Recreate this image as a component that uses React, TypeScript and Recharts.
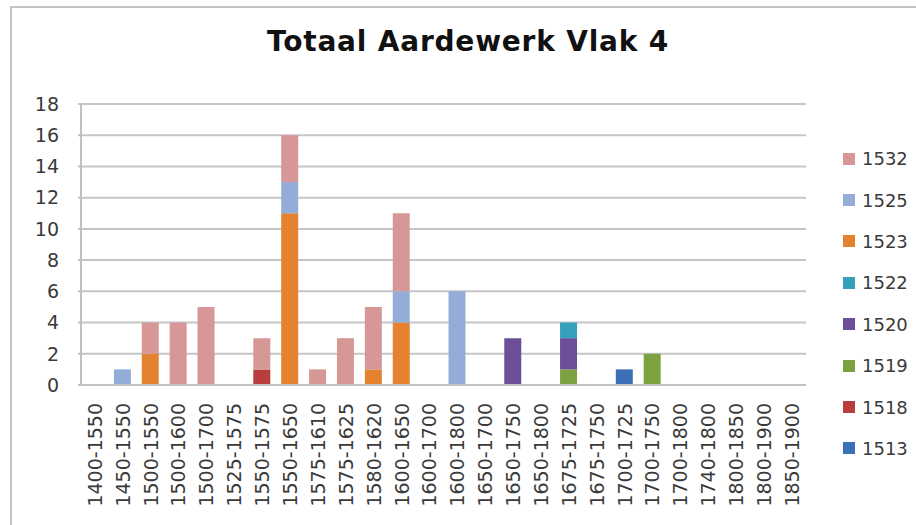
import React from 'react';
import { BarChart, Bar, XAxis, YAxis, CartesianGrid } from 'recharts';

const categories = [
  '1400-1550', '1450-1550', '1500-1550', '1500-1600', '1500-1700', '1525-1575',
  '1550-1575', '1550-1650', '1575-1610', '1575-1625', '1580-1620', '1600-1650',
  '1600-1700', '1600-1800', '1650-1700', '1650-1750', '1650-1800', '1675-1725',
  '1675-1750', '1700-1725', '1700-1750', '1700-1800', '1740-1800', '1800-1850',
  '1800-1900', '1850-1900',
];

const s1513 = [0, 0, 0, 0, 0, 0, 0, 0, 0, 0, 0, 0, 0, 0, 0, 0, 0, 0, 0, 1, 0, 0, 0, 0, 0, 0];
const s1518 = [0, 0, 0, 0, 0, 0, 1, 0, 0, 0, 0, 0, 0, 0, 0, 0, 0, 0, 0, 0, 0, 0, 0, 0, 0, 0];
const s1519 = [0, 0, 0, 0, 0, 0, 0, 0, 0, 0, 0, 0, 0, 0, 0, 0, 0, 1, 0, 0, 2, 0, 0, 0, 0, 0];
const s1520 = [0, 0, 0, 0, 0, 0, 0, 0, 0, 0, 0, 0, 0, 0, 0, 3, 0, 2, 0, 0, 0, 0, 0, 0, 0, 0];
const s1522 = [0, 0, 0, 0, 0, 0, 0, 0, 0, 0, 0, 0, 0, 0, 0, 0, 0, 1, 0, 0, 0, 0, 0, 0, 0, 0];
const s1523 = [0, 0, 2, 0, 0, 0, 0, 11, 0, 0, 1, 4, 0, 0, 0, 0, 0, 0, 0, 0, 0, 0, 0, 0, 0, 0];
const s1525 = [0, 1, 0, 0, 0, 0, 0, 2, 0, 0, 0, 2, 0, 6, 0, 0, 0, 0, 0, 0, 0, 0, 0, 0, 0, 0];
const s1532 = [0, 0, 2, 4, 5, 0, 2, 3, 1, 3, 4, 5, 0, 0, 0, 0, 0, 0, 0, 0, 0, 0, 0, 0, 0, 0];

const yTicks = [0, 2, 4, 6, 8, 10, 12, 14, 16, 18];

const seriesList = [
  { key: '1513', values: s1513, color: '#3B6FB6' },
  { key: '1518', values: s1518, color: '#B93D3D' },
  { key: '1519', values: s1519, color: '#7BA23E' },
  { key: '1520', values: s1520, color: '#6C4F98' },
  { key: '1522', values: s1522, color: '#34A0BA' },
  { key: '1523', values: s1523, color: '#E4822F' },
  { key: '1525', values: s1525, color: '#93ADD8' },
  { key: '1532', values: s1532, color: '#D69796' },
];

const data = categories.map((c, i) => {
  const row: Record<string, any> = { name: c };
  seriesList.forEach((s) => {
    row[s.key] = s.values[i];
  });
  return row;
});

const FONT = '"DejaVu Sans", sans-serif';
const TEXT = '#3A3A3A';

const XTick = (props: any) => {
  const { x, y, payload } = props;
  return (
    <g transform={`translate(${x},${y})`}>
      <text
        transform="rotate(-90)"
        x={-18}
        y={0}
        dy="0.36em"
        textAnchor="end"
        fontFamily={FONT}
        fontSize={19}
        fill={TEXT}
      >
        {payload.value}
      </text>
    </g>
  );
};

const LegendBox = () => {
  const items = [...seriesList].reverse();
  return (
    <div style={{ position: 'absolute', left: 843, top: 138, fontFamily: FONT, fontSize: 18, color: TEXT }}>
      {items.map((s) => (
        <div key={s.key} style={{ height: 41.4, display: 'flex', alignItems: 'center' }}>
          <span style={{ width: 12, height: 12, background: s.color, display: 'inline-block', marginRight: 7 }} />
          <span>{s.key}</span>
        </div>
      ))}
    </div>
  );
};

export default function App() {
  return (
    <div style={{ position: 'absolute', left: 0, top: 0, width: 916, height: 525, background: '#fff', overflow: 'hidden' }}>
      <div
        style={{
          position: 'absolute',
          left: 10,
          top: 6,
          width: 1000,
          height: 600,
          borderLeft: '2px solid #C4C4C4',
          borderTop: '2px solid #C4C4C4',
        }}
      />
      <div
        style={{
          position: 'absolute',
          left: 0,
          top: 25,
          width: 936,
          textAlign: 'center',
          fontFamily: FONT,
          fontWeight: 'bold',
          fontSize: 28,
          letterSpacing: 0.8,
          color: '#111',
        }}
      >
        Totaal Aardewerk Vlak 4
      </div>
      <div style={{ position: 'absolute', left: 0, top: 0 }}>
        <BarChart
          width={916}
          height={525}
          data={data}
          margin={{ top: 104, right: 110, bottom: 0, left: 21 }}
          barSize={17}
        >
          <CartesianGrid vertical={false} stroke="#C6C6C6" strokeWidth={2} />
          <XAxis
            dataKey="name"
            interval={0}
            height={140}
            tick={<XTick />}
            tickLine={false}
            tickSize={0}
            tickMargin={0}
            axisLine={{ stroke: '#C0C0C0', strokeWidth: 2 }}
          />
          <YAxis
            domain={[0, 18]}
            ticks={yTicks}
            interval={0}
            width={60}
            tickSize={3}
            tickMargin={19}
            tickLine={{ stroke: '#C0C0C0', strokeWidth: 2 }}
            axisLine={{ stroke: '#C0C0C0', strokeWidth: 2 }}
            tick={{ fontFamily: FONT, fontSize: 19, fill: TEXT }}
          />
          {seriesList.map((s) => (
            <Bar key={s.key} dataKey={s.key} stackId="a" fill={s.color} isAnimationActive={false} />
          ))}
        </BarChart>
      </div>
      <LegendBox />
    </div>
  );
}
